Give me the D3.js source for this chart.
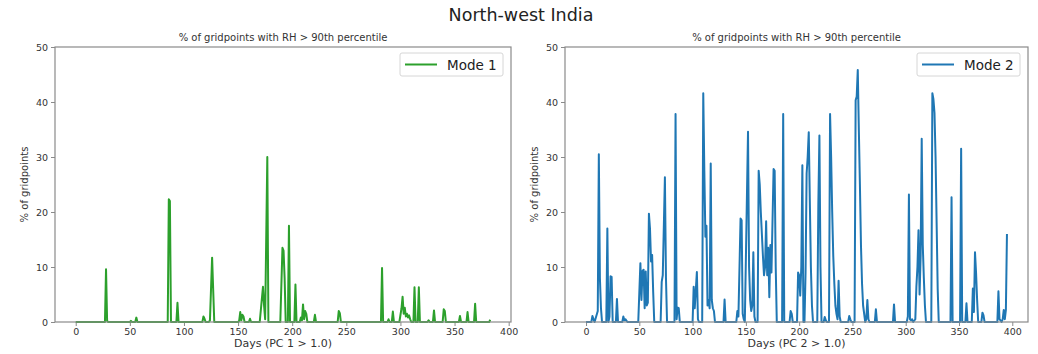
<!DOCTYPE html>
<html>
<head>
<meta charset="utf-8">
<script src="https://cdn.jsdelivr.net/npm/d3@7"></script>
<style>
  body { margin: 0; background: #fff; }
  svg text { font-family: "DejaVu Sans", sans-serif; }
</style>
</head>
<body>
<svg id="chart" width="1038" height="354"></svg>
<script>
const fig_title = "North-west India"
const panel_title = "% of gridpoints with RH > 90th percentile"
const y_label = "% of gridpoints"
const x_labels = ["Days (PC 1 > 1.0)", "Days (PC 2 > 1.0)"]
const legend_labels = ["Mode 1", "Mode 2"]
const x_ticks = [0, 50, 100, 150, 200, 250, 300, 350, 400]
const y_ticks = [0, 10, 20, 30, 40, 50]

// mode 1: day index and % of gridpoints, one spike per line
const mode1_days = [
    0, 27, 28, 29, 30,
    50, 51, 52, 55, 56, 57,
    85, 86, 87, 88,
    93, 94, 95,
    117, 118, 119, 120,
    123, 124, 126, 128,
    150, 151, 152, 153, 154, 155, 156,
    160, 161, 162,
    170, 173, 174, 175, 177, 178,
    189, 191, 192, 193, 194,
    196, 197, 198,
    202, 203, 204,
    207, 208, 209, 210, 211, 212, 213, 214,
    220, 221, 222,
    242, 243, 244, 245,
    282, 283, 284,
    288, 289, 290,
    292, 293, 294,
    299, 301, 302, 303, 304, 305, 306, 307, 308, 309, 310,
    312, 313, 314,
    316, 317, 318,
    325, 326, 327,
    330, 331, 332,
    339, 340, 341, 342,
    354, 355, 356,
    361, 362, 363,
    368, 369, 370,
    382, 383
]
const mode1_pct = [
    0, 0, 9.6, 0.2, 0,
    0, 0.2, 0, 0, 0.8, 0,
    0, 22.3, 22.0, 0,
    0, 3.5, 0,
    0, 1.0, 0.6, 0,
    0, 0.3, 11.7, 0,
    0, 0.2, 1.8, 0.3, 1.3, 1.0, 0,
    0, 0.6, 0,
    0, 6.4, 3.0, 0.5, 30.0, 0,
    0, 13.5, 13.0, 8.0, 0,
    0, 17.5, 0,
    0, 6.8, 0,
    0, 0.8, 0.3, 3.2, 0.5, 2.0, 1.5, 0,
    0, 1.3, 0,
    0, 2.0, 1.6, 0,
    0, 9.8, 0,
    0, 0.5, 0,
    0, 1.9, 0,
    0, 2.5, 4.6, 1.5, 2.6, 1.0, 1.5, 0.8, 1.2, 0.5, 0,
    0, 6.3, 0,
    0, 6.3, 0,
    0, 0.3, 0,
    0, 2.1, 0,
    0, 2.3, 2.0, 0,
    0, 1.1, 0,
    0, 1.8, 0,
    0, 3.3, 0,
    0, 0.4
]

// mode 2
const mode2_days = [
    0, 5, 6, 7, 8,
    11, 12, 13, 14, 15,
    19, 20, 21, 22, 23, 24, 25,
    28, 29, 30,
    34, 35, 36, 37, 38, 39,
    49, 51, 52, 53, 54, 55, 56, 57, 58, 59, 60, 61, 62, 63, 64,
    70, 71, 72, 74, 75, 76,
    83, 84, 85, 86, 87, 88,
    100, 101, 102, 104, 105, 106,
    109, 110, 111, 112, 113, 114, 115, 116, 117, 118, 119, 120, 121,
    129, 130, 131,
    141, 142, 143, 145, 146, 147, 148, 149,
    152, 153, 154, 155, 156, 157, 158, 159,
    161, 162, 163, 164, 165, 166, 167, 168, 169, 170, 171, 172, 173, 174, 176, 177, 178, 179,
    184, 185, 186,
    191, 192, 193, 194,
    198, 199, 200, 201, 202, 203, 204, 205, 206, 207, 208, 209, 210, 211, 212, 213,
    217, 218, 219, 220, 221,
    223, 224, 225, 226,
    228, 229, 230, 231, 232, 233, 234, 235, 236, 237, 238, 239,
    246, 247, 248, 249,
    252, 253, 254, 255, 256, 257, 258, 259, 260, 261, 262, 263, 264, 265, 266,
    271, 272, 273,
    288, 289, 290,
    301, 302, 303, 304, 305, 306, 307,
    309, 310, 311, 312, 313, 314, 315, 316, 317, 318, 319,
    324, 325, 326, 327, 328, 329, 330, 331,
    342, 343, 344,
    351, 352, 353,
    356, 357, 358,
    362, 363, 364, 365, 366, 367, 368,
    371, 372, 373, 374,
    386, 387, 388, 389, 390, 391, 392, 393, 394, 395
]
const mode2_pct = [
    0, 0, 1.1, 0.5, 0,
    2.0, 30.5, 8.0, 2.5, 0,
    0, 17.0, 0, 1.0, 8.3, 8.2, 0,
    0, 4.2, 0,
    0, 1.0, 0.3, 0.5, 0.2, 0,
    0, 10.7, 4.0, 9.3, 9.5, 2.5, 9.2, 3.0, 3.5, 19.7, 17.0, 11.0, 12.2, 5.5, 0,
    0, 7.3, 8.5, 26.3, 8.0, 0,
    0, 37.8, 0.5, 2.6, 2.5, 0,
    0, 6.4, 2.5, 9.1, 0.5, 0,
    0, 41.6, 27.5, 15.5, 17.5, 3.0, 4.0, 2.5, 28.8, 4.0, 2.5, 2.0, 0,
    0, 4.1, 0,
    0, 2.0, 1.0, 18.8, 18.5, 1.5, 0.5, 0,
    34.6, 10.0, 4.0, 2.0, 3.0, 12.7, 1.0, 0,
    0, 27.5, 25.0, 20.0, 16.0, 12.0, 8.5, 10.0, 18.3, 8.5, 13.5, 4.5, 14.0, 9.0, 27.8, 27.5, 10.0, 0,
    0, 37.8, 0,
    0, 2.0, 1.5, 0,
    0, 9.0, 8.5, 4.8, 10.0, 28.5, 0, 0, 9.0, 27.0, 30.0, 34.5, 22.0, 10.0, 3.0, 0,
    0, 21.5, 33.9, 10.0, 0,
    0, 0.9, 0.3, 0,
    0, 37.8, 30.0, 20.0, 12.0, 7.0, 3.0, 1.5, 0.5, 7.5, 1.0, 0,
    0, 1.1, 0.5, 0,
    0, 40.3, 41.0, 45.8, 35.0, 25.0, 14.0, 7.0, 3.0, 1.5, 0, 0.5, 4.0, 0.5, 0,
    0, 2.3, 0,
    0, 3.2, 0,
    0, 1.0, 23.2, 0.5, 0.3, 0.5, 0,
    0.5, 6.4, 10.0, 16.7, 5.0, 12.0, 33.3, 14.0, 8.0, 3.0, 0,
    0, 41.6, 40.5, 38.0, 30.0, 18.0, 6.0, 0,
    0, 22.7, 0,
    0, 31.5, 0,
    0, 3.4, 0,
    0, 6.1, 1.8, 12.7, 9.0, 4.0, 0,
    0, 1.7, 1.2, 0,
    0, 5.6, 0.5, 0.3, 0, 0.5, 2.2, 0.5, 2.2, 16.0
]

const panels = [
    {days: mode1_days, pct: mode1_pct, color: "#2ca02c", left: 55, right: 511, x_label: x_labels[0], legend: legend_labels[0]},
    {days: mode2_days, pct: mode2_pct, color: "#1f77b4", left: 565, right: 1028, x_label: x_labels[1], legend: legend_labels[1]}
]
const plot_top = 47
const plot_bottom = 322
const spine_color = "#8a8a8a"
const text_color = "#333"

const svg = d3.select("#chart")

svg.append("text")
    .attr("x", 521)
    .attr("y", 21)
    .attr("text-anchor", "middle")
    .attr("font-size", "17.5px")
    .attr("fill", "#222")
    .text(fig_title)

panels.forEach(p => {
    const pts = p.days.map((d, i) => [d, p.pct[i]])
    const extent = d3.extent(p.days)
    const pad = (extent[1] - extent[0]) * 0.05
    const x = d3.scaleLinear().domain([extent[0] - pad, extent[1] + pad]).range([p.left, p.right])
    const y = d3.scaleLinear().domain([0, 50]).range([plot_bottom, plot_top])
    const g = svg.append("g")

    const x_axis = g.append("g")
        .attr("transform", `translate(0,${plot_bottom})`)
        .call(d3.axisBottom(x).tickValues(x_ticks).tickSize(4).tickPadding(2).tickFormat(d3.format("d")))
    const y_axis = g.append("g")
        .attr("transform", `translate(${p.left},0)`)
        .call(d3.axisLeft(y).tickValues(y_ticks).tickSize(4).tickPadding(3))
    ;[x_axis, y_axis].forEach(ax => {
        ax.select(".domain").remove()
        ax.selectAll("line").attr("stroke", spine_color)
        ax.selectAll("text").attr("fill", text_color).attr("font-size", "9.5px")
            .attr("font-family", "DejaVu Sans, sans-serif")
    })

    g.append("path")
        .datum(pts)
        .attr("fill", "none")
        .attr("stroke", p.color)
        .attr("stroke-width", 2)
        .attr("stroke-linejoin", "round")
        .attr("d", d3.line().x(d => x(d[0])).y(d => y(d[1])))

    g.append("rect")
        .attr("x", p.left)
        .attr("y", plot_top)
        .attr("width", p.right - p.left)
        .attr("height", plot_bottom - plot_top)
        .attr("fill", "none")
        .attr("stroke", spine_color)
        .attr("stroke-width", 1.2)

    const mid = (p.left + p.right) / 2
    g.append("text")
        .attr("x", mid)
        .attr("y", 41)
        .attr("text-anchor", "middle")
        .attr("font-size", "10px")
        .attr("fill", text_color)
        .text(panel_title)
    g.append("text")
        .attr("x", mid)
        .attr("y", 347)
        .attr("text-anchor", "middle")
        .attr("font-size", "11px")
        .attr("fill", text_color)
        .text(p.x_label)
    g.append("text")
        .attr("transform", `translate(${p.left - 27},${(plot_top + plot_bottom) / 2}) rotate(-90)`)
        .attr("text-anchor", "middle")
        .attr("font-size", "10px")
        .attr("fill", text_color)
        .text(y_label)

    // legend box in upper right
    const lx = p.right - 111
    const legend = g.append("g").attr("transform", `translate(${lx},53)`)
    legend.append("rect")
        .attr("width", 103)
        .attr("height", 23)
        .attr("rx", 2)
        .attr("fill", "#fff")
        .attr("stroke", "#d6d6d6")
    legend.append("line")
        .attr("x1", 5).attr("x2", 37)
        .attr("y1", 11.5).attr("y2", 11.5)
        .attr("stroke", p.color)
        .attr("stroke-width", 2)
    legend.append("text")
        .attr("x", 47)
        .attr("y", 16.5)
        .attr("font-size", "13.5px")
        .attr("fill", "#222")
        .text(p.legend)
})
</script>
</body>
</html>
